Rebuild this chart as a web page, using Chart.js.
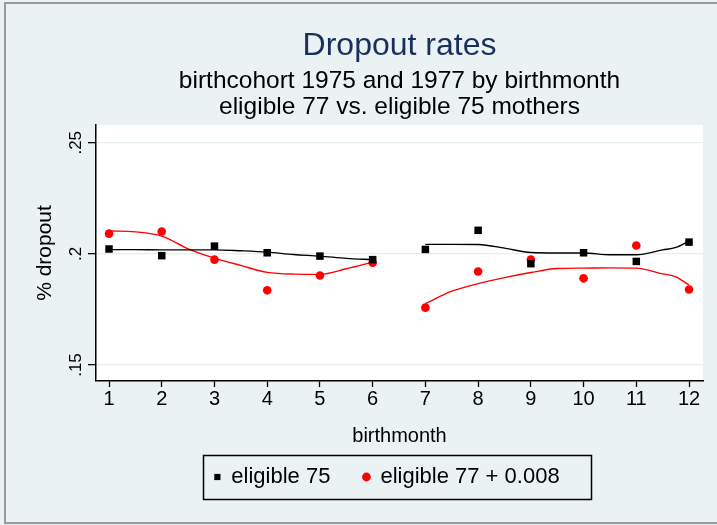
<!DOCTYPE html>
<html>
<head>
<meta charset="utf-8">
<script src="https://cdn.jsdelivr.net/npm/chart.js@4/dist/chart.umd.min.js"></script>
<style>
  html, body { margin: 0; padding: 0; background: #EAF2F3; }
  #wrap { width: 717px; height: 525px; position: relative; }
</style>
</head>
<body>
<div id="wrap"><canvas id="c" width="717" height="525"></canvas></div>
<script>
// ---- data ----
const months = [1, 2, 3, 4, 5, 6, 7, 8, 9, 10, 11, 12];
const eligible75 = [0.2022, 0.1992, 0.2035, 0.2005, 0.1990, 0.1974, 0.2020, 0.2106, 0.1956, 0.2005, 0.1966, 0.2053];
const eligible77 = [0.2091, 0.2101, 0.1974, 0.1836, 0.1903, 0.1960, 0.1758, 0.1921, 0.1975, 0.1890, 0.2038, 0.1840];

// fitted (smoothed) lines, read at selected months, two halves each
const fitX1 = [1, 1.5, 2, 2.5, 3, 3.5, 4, 4.5, 5, 5.5, 6];
const fit75a = [0.2019, 0.2019, 0.2018, 0.2018, 0.2018, 0.2014, 0.2008, 0.1997, 0.1990, 0.1980, 0.1974];
const fit77a = [0.2103, 0.2099, 0.2080, 0.2023, 0.1981, 0.1948, 0.1917, 0.1909, 0.1908, 0.1933, 0.1963];
const fitX2 = [7, 7.5, 8, 8.5, 9, 9.5, 10, 10.5, 11, 11.5, 11.75, 12];
const fit75b = [0.2043, 0.2043, 0.2042, 0.2026, 0.2006, 0.2004, 0.2004, 0.1996, 0.1996, 0.2018, 0.2029, 0.2058];
const fit77b = [0.1776, 0.1832, 0.1866, 0.1893, 0.1916, 0.1934, 0.1936, 0.1937, 0.1936, 0.1910, 0.1897, 0.1860];

const yTicks = [0.15, 0.2, 0.25];
const yTickLabels = ['.15', '.2', '.25'];
const xTicks = months;

const titleText = 'Dropout rates';
const subtitleLines = ['birthcohort 1975 and 1977 by birthmonth', 'eligible 77 vs. eligible 75 mothers'];
const legend75 = 'eligible 75';
const legend77 = 'eligible 77 + 0.008';

const FONT = '"Liberation Sans", Arial, sans-serif';

function pts(xs, ys) { return xs.map((x, i) => ({ x: x, y: ys[i] })); }

const bgPlugin = {
  id: 'bg',
  beforeDraw(chart) {
    const { ctx, chartArea: a } = chart;
    ctx.save();
    ctx.fillStyle = '#EAF2F3';
    ctx.fillRect(0, 0, chart.width, chart.height);
    ctx.fillStyle = '#ffffff';
    ctx.fillRect(a.left, a.top, a.right - a.left, a.bottom - a.top);
    ctx.restore();
  },
  afterDraw(chart) {
    const ctx = chart.ctx;
    ctx.save();
    // outer frame (top, left, bottom)
    ctx.strokeStyle = '#9a9a9a';
    ctx.lineWidth = 2;
    ctx.beginPath();
    ctx.moveTo(717, 3); ctx.lineTo(5, 3); ctx.lineTo(5, 523); ctx.lineTo(717, 523);
    ctx.stroke();
    // legend frame
    const lg = chart.legend;
    if (lg && lg.legendHitBoxes && lg.legendHitBoxes.length) {
      const first = lg.legendHitBoxes[0];
      const cy = first.top + first.height / 2;
      ctx.strokeStyle = '#000';
      ctx.lineWidth = 1.5;
      ctx.strokeRect(Math.round(first.left - 11) + 0.5, Math.round(cy - 22) + 0.5, 388, 44);
    }
    ctx.restore();
  }
};

const ctx = document.getElementById('c').getContext('2d');
new Chart(ctx, {
  type: 'scatter',
  data: {
    datasets: [
      { label: legend75, data: pts(months, eligible75), showLine: false,
        pointStyle: 'rect', pointRadius: 5.3, backgroundColor: '#000', borderColor: '#000', borderWidth: 0 },
      { label: legend77, data: pts(months, eligible77), showLine: false,
        pointStyle: 'circle', pointRadius: 4.3, backgroundColor: '#ff0000', borderColor: '#ff0000', borderWidth: 0 },
      { label: 'fit75a', data: pts(fitX1, fit75a), showLine: true, pointRadius: 0,
        borderColor: '#000', borderWidth: 1.4, cubicInterpolationMode: 'monotone' },
      { label: 'fit77a', data: pts(fitX1, fit77a), showLine: true, pointRadius: 0,
        borderColor: '#ff0000', borderWidth: 1.4, cubicInterpolationMode: 'monotone' },
      { label: 'fit75b', data: pts(fitX2, fit75b), showLine: true, pointRadius: 0,
        borderColor: '#000', borderWidth: 1.4, cubicInterpolationMode: 'monotone' },
      { label: 'fit77b', data: pts(fitX2, fit77b), showLine: true, pointRadius: 0,
        borderColor: '#ff0000', borderWidth: 1.4, cubicInterpolationMode: 'monotone' }
    ]
  },
  options: {
    responsive: false,
    animation: false,
    devicePixelRatio: 1,
    layout: { padding: { left: 22, right: 14, top: 0, bottom: 27 } },
    plugins: {
      tooltip: { enabled: false },
      title: {
        display: true, text: titleText, color: '#1A2F5E', fullSize: false,
        font: { family: FONT, size: 32, weight: 'normal', lineHeight: 1.2 },
        padding: { top: 27, bottom: 2.6 }
      },
      subtitle: {
        display: true, text: subtitleLines, color: '#000', fullSize: false,
        font: { family: FONT, size: 24.5, weight: 'normal', lineHeight: 1.061 },
        padding: { top: 0, bottom: 5 }
      },
      legend: {
        display: true, position: 'bottom', fullSize: false,
        labels: {
          usePointStyle: true, boxWidth: 6, boxHeight: 6.2, padding: 8,
          color: '#000', font: { family: FONT, size: 22 },
          generateLabels: (chart) => {
            const all = Chart.defaults.plugins.legend.labels.generateLabels(chart);
            const items = all.filter(it => it.datasetIndex < 2);
            const spacer = () => ({ text: '', fillStyle: 'rgba(0,0,0,0)', strokeStyle: 'rgba(0,0,0,0)',
                             lineWidth: 0, pointStyle: 'circle', hidden: false, datasetIndex: -1 });
            return [items[0], spacer(), items[1], spacer()];
          }
        }
      }
    },
    scales: {
      x: {
        type: 'linear', min: 0.753, max: 12.265,
        afterBuildTicks: (s) => { s.ticks = xTicks.map(v => ({ value: v })); },
        ticks: { color: '#000', font: { family: FONT, size: 20, lineHeight: 1.2 }, padding: 0,
                 callback: (v) => String(v), maxRotation: 0, minRotation: 0 },
        grid: { display: true, drawOnChartArea: false, drawTicks: true, tickLength: 6, tickColor: '#000', tickWidth: 1.3 },
        border: { display: true, color: '#000', width: 1.5 },
        title: { display: true, text: 'birthmonth', color: '#000',
                 font: { family: FONT, size: 20, lineHeight: 1.2 }, padding: { top: 13, bottom: 10 } }
      },
      y: {
        type: 'linear', min: 0.1428, max: 0.258,
        afterBuildTicks: (s) => { s.ticks = yTicks.map(v => ({ value: v })); },
        ticks: { color: '#000', font: { family: FONT, size: 17, lineHeight: 1.2 }, padding: 0,
                 minRotation: 90, maxRotation: 90, crossAlign: 'center',
                 callback: (v) => yTickLabels[yTicks.indexOf(v)] },
        grid: { display: true, drawOnChartArea: true, color: '#E6EFF0', lineWidth: 1.3,
                drawTicks: true, tickLength: 8, tickColor: '#000', tickWidth: 1.3 },
        border: { display: true, color: '#000', width: 1.5 },
        title: { display: true, text: '% dropout', color: '#000',
                 font: { family: FONT, size: 21, lineHeight: 1.2 }, padding: { top: 10.4, bottom: 10 } }
      }
    }
  },
  plugins: [bgPlugin]
});
</script>
</body>
</html>
